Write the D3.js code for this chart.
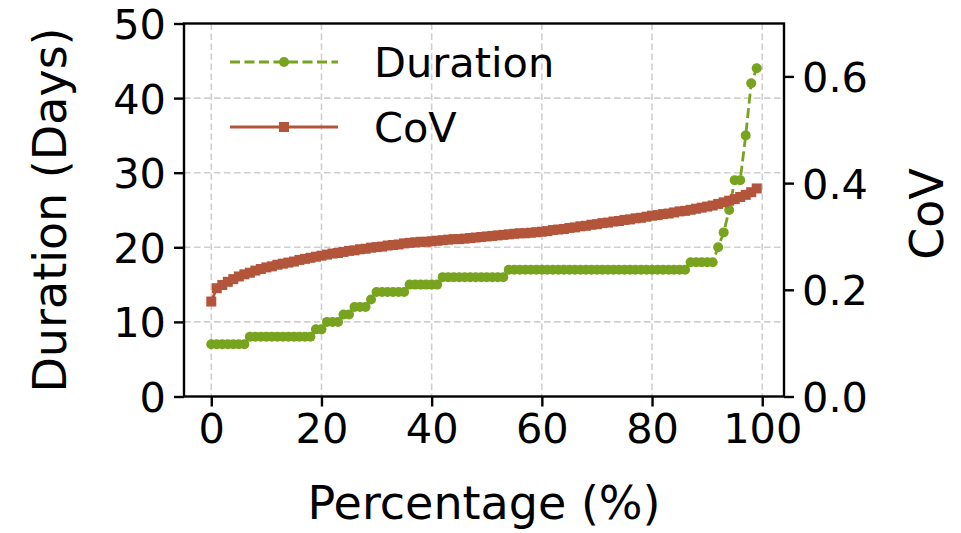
<!DOCTYPE html>
<html>
<head>
<meta charset="utf-8">
<script src="https://cdn.jsdelivr.net/npm/d3@7"></script>
<style>
  html, body { margin: 0; padding: 0; background: #fff; }
  svg { display: block; font-family: "DejaVu Sans", sans-serif; }
</style>
</head>
<body>
<svg id="chart" width="961" height="533"></svg>
<script>
// Percentile positions 0..99
const percentages = d3.range(0, 100);

// Duration in days at each percentile (left axis)
const duration = [
  7, 7, 7, 7, 7, 7, 7,
  8, 8, 8, 8, 8, 8, 8, 8, 8, 8, 8, 8,
  9, 9,
  10, 10, 10,
  11, 11,
  12, 12, 12,
  13,
  14, 14, 14, 14, 14, 14,
  15, 15, 15, 15, 15, 15,
  16, 16, 16, 16, 16, 16, 16, 16, 16, 16, 16, 16,
  17, 17, 17, 17, 17, 17, 17, 17, 17, 17, 17, 17, 17, 17, 17, 17,
  17, 17, 17, 17, 17, 17, 17, 17, 17, 17, 17, 17, 17, 17, 17, 17, 17,
  18, 18, 18, 18, 18,
  20, 22, 25, 29, 29, 35, 42, 44
];

// Coefficient of variation at each percentile (right axis)
const cov = [
  0.178, 0.203, 0.209, 0.215, 0.220, 0.225, 0.229, 0.232, 0.236, 0.239,
  0.242, 0.244, 0.247, 0.249, 0.251, 0.253, 0.256, 0.258, 0.260, 0.262,
  0.264, 0.266, 0.268, 0.269, 0.271, 0.273, 0.274, 0.276, 0.277, 0.279,
  0.280, 0.281, 0.283, 0.284, 0.285, 0.287, 0.288, 0.289, 0.290, 0.290,
  0.291, 0.292, 0.293, 0.294, 0.295, 0.295, 0.296, 0.297, 0.298, 0.299,
  0.300, 0.301, 0.302, 0.303, 0.304, 0.305, 0.306, 0.306, 0.307, 0.308,
  0.309, 0.310, 0.312, 0.313, 0.314, 0.316, 0.317, 0.319, 0.320, 0.322,
  0.323, 0.325, 0.326, 0.328, 0.329, 0.331, 0.332, 0.334, 0.335, 0.337,
  0.339, 0.340, 0.342, 0.343, 0.345, 0.347, 0.348, 0.350, 0.352, 0.354,
  0.356, 0.358, 0.361, 0.364, 0.367, 0.370, 0.374, 0.378, 0.383, 0.390
];

const xTicks = [0, 20, 40, 60, 80, 100];
const yLeftTicks = [0, 10, 20, 30, 40, 50];
const yRightTicks = [0.0, 0.2, 0.4, 0.6];

const seriesNames = ["Duration", "CoV"];
const colors = { Duration: "#77a31f", CoV: "#b3553b" };

const svg = d3.select("#chart");
const plot = { left: 184, right: 784, top: 23.5, bottom: 396.5 };

const x = d3.scaleLinear().domain([-4.95, 103.95]).range([plot.left, plot.right]);
const yL = d3.scaleLinear().domain([0, 50]).range([plot.bottom, plot.top]);
const yR = d3.scaleLinear().domain([0, 0.6992]).range([plot.bottom, plot.top]);

const tickFont = 41.5;
const labelFont = 46;
const dotR = 5;
const sq = 10;

// Grid lines
const grid = svg.append("g")
  .attr("stroke", "#cfcfcf")
  .attr("stroke-width", 1.6)
  .attr("stroke-dasharray", "6.5,3.5");
grid.selectAll(".gx").data(xTicks).join("line")
  .attr("x1", d => x(d)).attr("x2", d => x(d))
  .attr("y1", plot.top).attr("y2", plot.bottom);
grid.selectAll(".gy").data(yLeftTicks.filter(d => d > 0 && d < 50)).join("line")
  .attr("x1", plot.left).attr("x2", plot.right)
  .attr("y1", d => yL(d)).attr("y2", d => yL(d));

// Duration series: dashed line with round markers
const durPts = percentages.map((p, i) => [p, duration[i]]);
svg.append("path")
  .datum(durPts)
  .attr("fill", "none")
  .attr("stroke", colors.Duration)
  .attr("stroke-width", 2.8)
  .attr("stroke-dasharray", "10,4.5")
  .attr("d", d3.line().x(d => x(d[0])).y(d => yL(d[1])));
svg.append("g").selectAll("circle").data(durPts).join("circle")
  .attr("cx", d => x(d[0])).attr("cy", d => yL(d[1]))
  .attr("r", dotR)
  .attr("fill", colors.Duration);

// CoV series: solid line with square markers
const covPts = percentages.map((p, i) => [p, cov[i]]);
svg.append("path")
  .datum(covPts)
  .attr("fill", "none")
  .attr("stroke", colors.CoV)
  .attr("stroke-width", 2.8)
  .attr("d", d3.line().x(d => x(d[0])).y(d => yR(d[1])));
svg.append("g").selectAll("rect").data(covPts).join("rect")
  .attr("x", d => x(d[0]) - sq / 2).attr("y", d => yR(d[1]) - sq / 2)
  .attr("width", sq).attr("height", sq)
  .attr("fill", colors.CoV);

// Axes
function styleAxis(g) {
  g.selectAll(".domain").remove();
  g.selectAll(".tick line").attr("stroke", "#000").attr("stroke-width", 2.4);
  g.selectAll(".tick text").attr("fill", "#000").attr("font-size", tickFont)
    .attr("font-family", "DejaVu Sans");
}

svg.append("g")
  .attr("transform", `translate(0,${plot.bottom})`)
  .call(d3.axisBottom(x).tickValues(xTicks).tickSize(10).tickPadding(7).tickFormat(d3.format("d")))
  .call(styleAxis);

svg.append("g")
  .attr("transform", `translate(${plot.left},0)`)
  .call(d3.axisLeft(yL).tickValues(yLeftTicks).tickSize(10).tickPadding(8).tickFormat(d3.format("d")))
  .call(styleAxis)
  .selectAll(".tick text").attr("dy", "0.36em");

svg.append("g")
  .attr("transform", `translate(${plot.right},0)`)
  .call(d3.axisRight(yR).tickValues(yRightTicks).tickSize(10).tickPadding(8).tickFormat(d3.format(".1f")))
  .call(styleAxis)
  .selectAll(".tick text").attr("dy", "0.36em");

// Frame
svg.append("rect")
  .attr("x", plot.left).attr("y", plot.top)
  .attr("width", plot.right - plot.left).attr("height", plot.bottom - plot.top)
  .attr("fill", "none").attr("stroke", "#000").attr("stroke-width", 2.4);

// Axis titles
svg.append("text")
  .attr("x", (plot.left + plot.right) / 2).attr("y", 519)
  .attr("text-anchor", "middle").attr("font-size", labelFont)
  .text("Percentage (%)");
svg.append("text")
  .attr("transform", `translate(66,${(plot.top + plot.bottom) / 2}) rotate(-90)`)
  .attr("text-anchor", "middle").attr("font-size", labelFont)
  .text("Duration (Days)");
svg.append("text")
  .attr("transform", `translate(943,${(plot.top + plot.bottom) / 2 + 4}) rotate(-90)`)
  .attr("text-anchor", "middle").attr("font-size", labelFont)
  .text("CoV");

// Legend
const legend = svg.append("g");
const legRows = [
  { name: seriesNames[0], y: 62, dashed: true, marker: "circle" },
  { name: seriesNames[1], y: 127, dashed: false, marker: "square" }
];
legRows.forEach(r => {
  const g = legend.append("g");
  g.append("line")
    .attr("x1", 230).attr("x2", 338).attr("y1", r.y).attr("y2", r.y)
    .attr("stroke", colors[r.name]).attr("stroke-width", 2.8)
    .attr("stroke-dasharray", r.dashed ? "10,4.5" : null);
  if (r.marker === "circle") {
    g.append("circle").attr("cx", 284).attr("cy", r.y).attr("r", dotR).attr("fill", colors[r.name]);
  } else {
    g.append("rect").attr("x", 284 - sq / 2).attr("y", r.y - sq / 2)
      .attr("width", sq).attr("height", sq).attr("fill", colors[r.name]);
  }
  g.append("text").attr("x", 374).attr("y", r.y).attr("dy", "0.36em")
    .attr("font-size", tickFont).text(r.name);
});
</script>
</body>
</html>
